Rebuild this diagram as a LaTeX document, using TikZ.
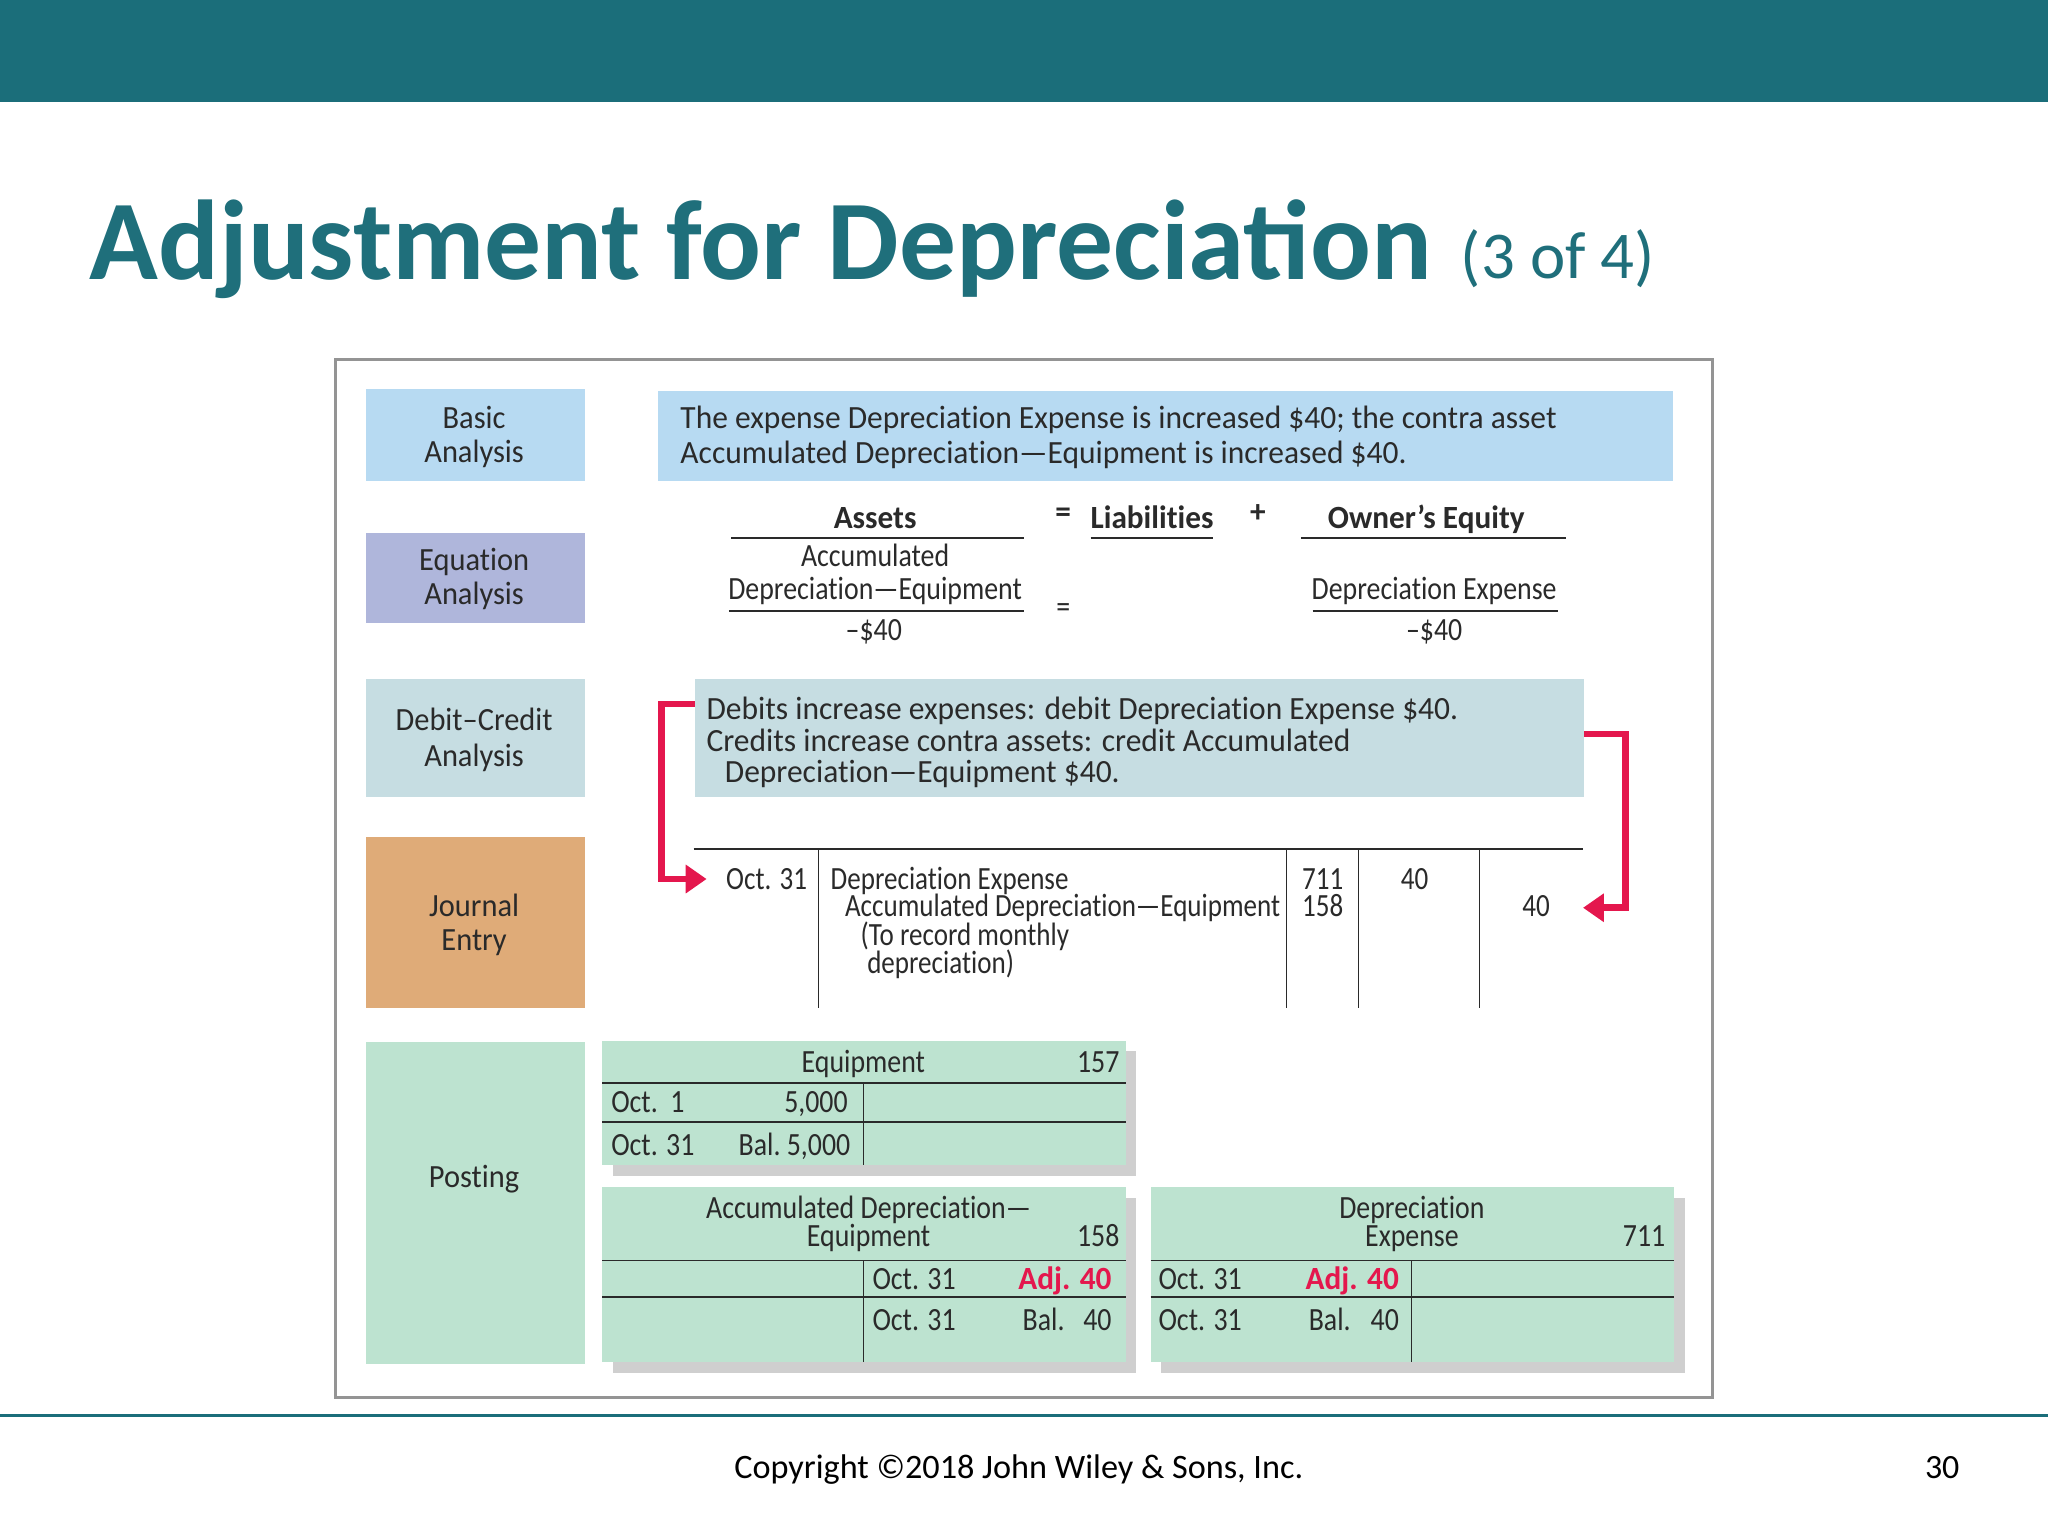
\documentclass[tikz,border=0pt]{standalone}
\usepackage{fontspec}
\setmainfont{Carlito}
\newfontfamily\fwide[FakeStretch=0.972,Ligatures=NoCommon]{Carlito}
\newfontfamily\flabel[FakeStretch=0.94,Ligatures=NoCommon]{Carlito}
\newfontfamily\feq[FakeStretch=0.86,Ligatures=NoCommon]{Carlito}
\newfontfamily\fjrn[FakeStretch=0.835,Ligatures=NoCommon]{Carlito}
\newfontfamily\fpost[FakeStretch=0.86,Ligatures=NoCommon]{Carlito}
\newfontfamily\fboldf[FakeStretch=0.965,Ligatures=NoCommon]{Carlito}
\newcommand{\fbold}{\fboldf\bfseries}
\usetikzlibrary{fit,arrows.meta}
\definecolor{teal}{HTML}{1B6E7A}
\definecolor{titlecol}{HTML}{1F6F7B}
\definecolor{pblue}{HTML}{B7DAF2}
\definecolor{ppurple}{HTML}{AFB6DB}
\definecolor{pgrey}{HTML}{C6DDE2}
\definecolor{porange}{HTML}{DFAB78}
\definecolor{pgreen}{HTML}{BDE3D0}
\definecolor{pshadow}{HTML}{CFCFCF}
\definecolor{pred}{HTML}{E4174D}
\definecolor{ink}{HTML}{2A2A2A}
\tikzset{
  panel/.style={inner sep=0pt,outer sep=0pt,draw=none,fill=#1},
  txt/.style={inner sep=0pt,outer sep=0pt,text=ink,yshift=-0.5pt,font=\fontsize{12.4}{15}\selectfont\fwide},
  rule/.style={draw=ink,line width=0.65pt},
  thin rule/.style={draw=ink,line width=0.4pt},
  redarrow/.style={draw=pred,line width=2.6pt,-{Triangle[length=8pt,width=10.5pt]}},
}
% family switch used by the text macros
\newcommand{\curfam}{}
\newcommand{\pnl}[6]{\node[panel=#6,fit={(#2,#3)(#4,#5)}] (#1) {};}
\newcommand{\tl}[4]{\node[txt,anchor=base west] (#1) at (#2,#3) {\curfam #4};}
\newcommand{\tc}[4]{\node[txt,anchor=base] (#1) at (#2,#3) {\curfam #4};}
\newcommand{\tr}[4]{\node[txt,anchor=base east] (#1) at (#2,#3) {\curfam #4};}
\begin{document}
\begin{tikzpicture}[x=0.5pt,y=-0.5pt]
\useasboundingbox (0,0) rectangle (1568,1176);
% header
\pnl{header}{0}{0}{1568}{78}{teal}
\node[inner sep=0pt,anchor=base west,text=titlecol,font=\fontsize{43.45}{50}\selectfont\bfseries] (title) at (68,214) {Adjustment for Depreciation};
\node[inner sep=0pt,anchor=base west,text=titlecol,font=\fontsize{25.6}{30}\selectfont] (titlepart) at (1118,213) {(3 of 4)};
% frame
\node[fit={(257,275)(1311,1070)},inner sep=0pt,draw=black!42,line width=1.2pt] (frame) {};
% left column
\pnl{basicbox}{280}{298}{448}{368}{pblue}
\pnl{eqbox}{280}{408}{448}{477}{ppurple}
\pnl{dcbox}{280}{520}{448}{610}{pgrey}
\pnl{jebox}{280}{641}{448}{772}{porange}
\pnl{postbox}{280}{798}{448}{1044}{pgreen}
\renewcommand{\curfam}{\flabel}
\tc{l1}{363}{327}{Basic}
\tc{l2}{363}{353}{Analysis}
\tc{l3}{363}{436}{Equation}
\tc{l4}{363}{462}{Analysis}
\tc{l5}{363}{558}{Debit–Credit}
\tc{l6}{363}{586}{Analysis}
\tc{l7}{363}{701}{Journal}
\tc{l8}{363}{727}{Entry}
\tc{l9}{363}{908}{Posting}
% basic analysis
\pnl{basictext}{504}{299}{1281}{368}{pblue}
\renewcommand{\curfam}{\fwide}
\tl{b1}{521}{327}{The expense Depreciation Expense is increased \$40; the contra asset}
\tl{b2}{521}{354}{Accumulated Depreciation—Equipment is increased \$40.}
% equation
\renewcommand{\curfam}{\fbold}
\tc{e1}{670}{404}{Assets}
\tc{e2}{882}{404}{Liabilities}
\tc{e3}{1092}{404}{Owner’s Equity}
\tc{e4}{814}{399}{=}
\tc{e5}{963}{399}{+}
\draw[rule] (560,412) -- (784,412);
\draw[rule] (835,412) -- (929,412);
\draw[rule] (996,412) -- (1199,412);
\renewcommand{\curfam}{\feq}
\tc{e6}{670}{433}{Accumulated}
\tc{e7}{670}{458}{Depreciation—Equipment}
\tc{e8}{1098}{458}{Depreciation Expense}
\draw[rule] (558,468) -- (784,468);
\draw[rule] (1005,468) -- (1193,468);
\tc{e9}{669}{489}{–\$40}
\tc{e10}{814}{472}{=}
\tc{e11}{1098}{489}{–\$40}
% debit-credit
\pnl{dctext}{532}{520}{1213}{610}{pgrey}
\renewcommand{\curfam}{\fwide}
\tl{d1}{541}{550}{Debits increase expenses: debit Depreciation Expense \$40.}
\tl{d2}{541}{574}{Credits increase contra assets: credit Accumulated}
\tl{d3}{555}{598}{Depreciation—Equipment \$40.}
% journal
\draw[rule] (531,650) -- (1212,650);
\draw[thin rule] (627,650) -- (627,772);
\draw[thin rule] (985,650) -- (985,772);
\draw[thin rule] (1040,650) -- (1040,772);
\draw[thin rule] (1133,650) -- (1133,772);
\renewcommand{\curfam}{\fjrn}
\tl{j1}{556}{680}{Oct. 31}
\tl{j2}{636}{680}{Depreciation Expense}
\tl{j3}{647}{701}{Accumulated Depreciation—Equipment}
\tl{j4}{659}{723}{(To record monthly}
\tl{j5}{664}{744}{depreciation)}
\tl{j6}{997}{680}{711}
\tl{j7}{997}{701}{158}
\tc{j8}{1083}{680}{40}
\tc{j9}{1176}{701}{40}
% red connectors
\coordinate (la) at (dctext.west|-0,539);
\coordinate (lb) at (541,673);
\coordinate (ra) at (dctext.east|-0,562);
\coordinate (rb) at (1212,695);
\draw[redarrow] (la) -- (506.5,539) -- (506.5,673) -- (lb);
\draw[redarrow] (ra) -- (1244.5,562) -- (1244.5,695) -- (rb);
% posting: equipment
\fill[pshadow] (469,805) rectangle (870,900);
\pnl{acc1}{461}{797}{862}{892}{pgreen}
\draw[rule] (461,829) -- (862,829);
\draw[rule] (461,859) -- (862,859);
\draw[thin rule] (661,829) -- (661,892);
\renewcommand{\curfam}{\fpost}
\tc{p1}{661}{820}{Equipment}
\tr{p2}{857}{820}{157}
\tl{p3}{468}{851}{Oct.\ \ 1}
\tr{p4}{649}{851}{5,000}
\tl{p5}{468}{884}{Oct. 31}
\tr{p6}{651}{884}{Bal.\ 5,000}
% posting: accumulated
\fill[pshadow] (469,917) rectangle (870,1051);
\pnl{acc2}{461}{909}{862}{1043}{pgreen}
\draw[rule] (461,965) -- (862,965);
\draw[rule] (461,993) -- (862,993);
\draw[thin rule] (661,965) -- (661,1043);
\tc{q1}{665}{932}{Accumulated Depreciation—}
\tc{q2}{665}{953}{Equipment}
\tr{q3}{857}{953}{158}
\tl{q4}{668}{986}{Oct. 31}
\tr{q5}{851}{986}{\fbold\color{pred}Adj. 40}
\tl{q6}{668}{1018}{Oct. 31}
\tl{q7}{783}{1018}{Bal.}
\tr{q8}{851}{1018}{40}
% posting: depreciation
\fill[pshadow] (889,917) rectangle (1290,1051);
\pnl{acc3}{881}{909}{1282}{1043}{pgreen}
\draw[rule] (881,965) -- (1282,965);
\draw[rule] (881,993) -- (1282,993);
\draw[thin rule] (1081,965) -- (1081,1043);
\tc{r1}{1081}{932}{Depreciation}
\tc{r2}{1081}{953}{Expense}
\tr{r3}{1275}{953}{711}
\tl{r4}{887}{986}{Oct. 31}
\tr{r5}{1071}{986}{\fbold\color{pred}Adj. 40}
\tl{r6}{887}{1018}{Oct. 31}
\tl{r7}{1002}{1018}{Bal.}
\tr{r8}{1071}{1018}{40}
% footer
\draw[draw=teal,line width=1.2pt] (0,1084) -- (1568,1084);
\node[inner sep=0pt,anchor=base,text=black,font=\fontsize{13.1}{16}\selectfont] (copy) at (780,1132) {Copyright ©2018 John Wiley \& Sons, Inc.};
\node[inner sep=0pt,anchor=base,text=black,font=\fontsize{13}{16}\selectfont] (pageno) at (1487,1132) {30};
\end{tikzpicture}
\end{document}
